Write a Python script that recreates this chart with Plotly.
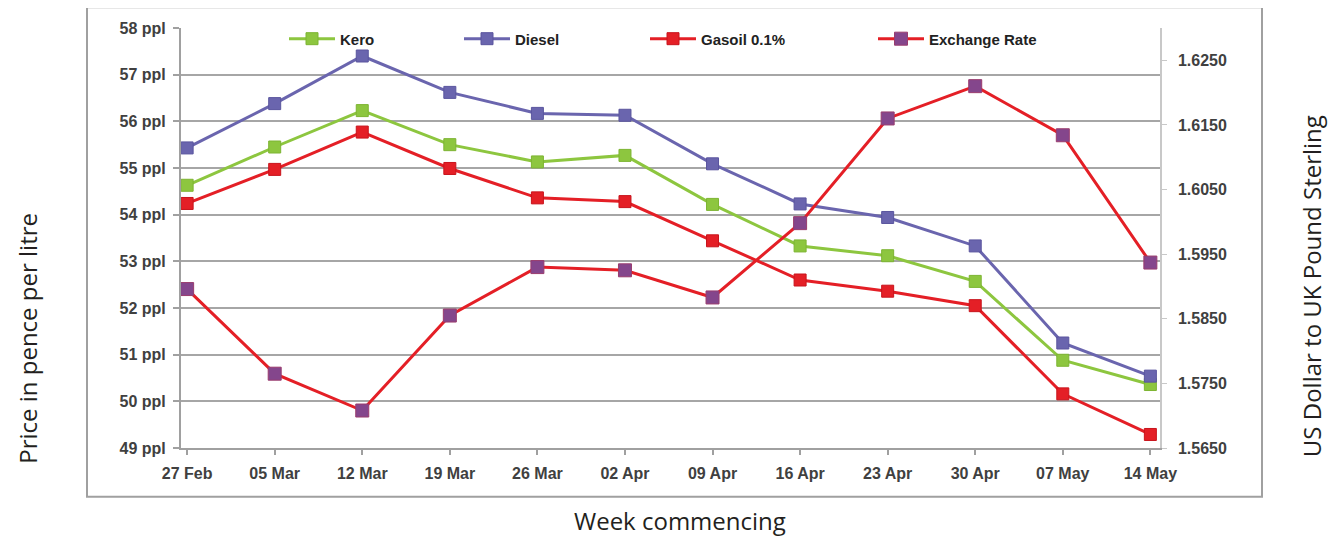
import plotly.graph_objects as go

weeks = ["27 Feb", "05 Mar", "12 Mar", "19 Mar", "26 Mar", "02 Apr",
         "09 Apr", "16 Apr", "23 Apr", "30 Apr", "07 May", "14 May"]
kero = [54.63, 55.45, 56.23, 55.50, 55.13, 55.27, 54.22, 53.33, 53.12, 52.57, 50.88, 50.36]
diesel = [55.43, 56.38, 57.40, 56.62, 56.17, 56.13, 55.09, 54.23, 53.94, 53.33, 51.25, 50.54]
gasoil = [54.24, 54.97, 55.77, 54.99, 54.36, 54.28, 53.44, 52.60, 52.36, 52.05, 50.16, 49.29]
exchange = [1.5896, 1.5765, 1.5708, 1.5855, 1.5930, 1.5925, 1.5883, 1.5998, 1.6160, 1.6210, 1.6134, 1.5937]

ppl_ticks = list(range(49, 59))
fx_ticks = [1.565, 1.575, 1.585, 1.595, 1.605, 1.615, 1.625]

x = list(range(len(weeks)))

# the page body has an 8px margin: figure origin sits at page (8, 8)
OFF = 8
FW, FH = 1336 - OFF, 539 - OFF
# plot area in page pixels
L, R, T, B = 181, 1160, 25, 448
W, H = R - L, B - T


def px(xp):
    return (xp - L) / W


def py(yp):
    return (B - yp) / H


TICKFONT = dict(family="Liberation Sans Narrow, Arial Narrow, sans-serif", size=16, color="#404040", weight="bold")
GREEN, BLUE, RED, PURPLE = "#8DC63F", "#6A65AE", "#E41F26", "#84468C"

fig = go.Figure()
fig.add_trace(go.Scatter(x=x, y=kero, name="Kero", mode="lines+markers",
                         line=dict(color=GREEN, width=3),
                         marker=dict(symbol="square", size=12, color=GREEN, line=dict(color="#7DB432", width=1)),
                         legend="legend"))
fig.add_trace(go.Scatter(x=x, y=diesel, name="Diesel", mode="lines+markers",
                         line=dict(color=BLUE, width=3),
                         marker=dict(symbol="square", size=12, color=BLUE, line=dict(color="#5A559E", width=1)),
                         legend="legend2"))
fig.add_trace(go.Scatter(x=x, y=gasoil, name="Gasoil 0.1%", mode="lines+markers",
                         line=dict(color=RED, width=3),
                         marker=dict(symbol="square", size=12, color=RED, line=dict(color="#C8141C", width=1)),
                         legend="legend3"))
fig.add_trace(go.Scatter(x=x, y=exchange, name="Exchange Rate", mode="lines+markers", yaxis="y2",
                         line=dict(color=RED, width=3),
                         marker=dict(symbol="square", size=13, color=PURPLE, line=dict(color="#9A3C6E", width=1)),
                         legend="legend4"))

legfont = dict(family="Liberation Sans Narrow, Arial Narrow, sans-serif", size=15, color="#222222", weight="bold")
leg_common = dict(orientation="h", yanchor="middle", y=py(36), xanchor="left",
                  bgcolor="rgba(0,0,0,0)", font=legfont, itemwidth=46, borderwidth=0)

TITLEFONT = dict(family="Open Sans, sans-serif", size=24, color="#231F20")

fig.update_layout(
    width=FW, height=FH,
    margin=dict(l=L - OFF, r=FW - (R - OFF), t=T - OFF, b=FH - (B - OFF)),
    paper_bgcolor="white", plot_bgcolor="white",
    showlegend=True,
    legend=dict(x=px(284), **leg_common),
    legend2=dict(x=px(459), **leg_common),
    legend3=dict(x=px(645), **leg_common),
    legend4=dict(x=px(873), **leg_common),
    xaxis=dict(
        range=[-0.07, 11.11], tickmode="array", tickvals=x, ticktext=weeks,
        showgrid=False, zeroline=False, showline=True, linecolor="#A0A0A0", linewidth=2,
        ticks="outside", ticklen=5, tickcolor="#A0A0A0", tickwidth=1.5,
        tickfont=TICKFONT, ticklabelstandoff=5,
    ),
    yaxis=dict(
        range=[49, 58], tickmode="array", tickvals=ppl_ticks,
        ticktext=[f"{v} ppl" for v in ppl_ticks],
        showgrid=True, gridcolor="#A6A6A6", gridwidth=1.5, zeroline=False,
        showline=True, linecolor="#A0A0A0", linewidth=2,
        ticks="outside", ticklen=6, tickcolor="#A0A0A0", tickwidth=1.5,
        tickfont=TICKFONT, ticklabelstandoff=4,
    ),
    yaxis2=dict(
        overlaying="y", side="right", range=[1.565, 1.630], tickmode="array",
        tickvals=fx_ticks, ticktext=[f"{v:.4f}" for v in fx_ticks],
        showgrid=False, zeroline=False, showline=True, linecolor="#C8C8C8", linewidth=1.5,
        ticks="outside", ticklen=5, tickcolor="#C8C8C8", tickwidth=1,
        tickfont=TICKFONT, ticklabelstandoff=8,
    ),
    shapes=[
        dict(type="rect", xref="paper", yref="paper", x0=px(87), x1=px(1262), y0=py(497), y1=py(4),
             line=dict(color="#A0A0A0", width=2), fillcolor="rgba(0,0,0,0)", layer="below"),
        dict(type="rect", xref="paper", yref="paper", x0=px(245), x1=px(1085), y0=py(45), y1=py(15),
             line=dict(width=0), fillcolor="white", layer="above"),
    ],
    annotations=[
        dict(text="Price in pence per litre", xref="paper", yref="paper", x=px(28), y=py(338),
             textangle=-90, showarrow=False, xanchor="center", yanchor="middle", font=TITLEFONT),
        dict(text="US Dollar to UK Pound Sterling", xref="paper", yref="paper", x=px(1311), y=py(285),
             textangle=-90, showarrow=False, xanchor="center", yanchor="middle", font=TITLEFONT),
        dict(text="Week commencing", xref="paper", yref="paper", x=px(680), y=py(521),
             showarrow=False, xanchor="center", yanchor="middle", font=TITLEFONT),
    ],
)

fig.write_html("out.html")
